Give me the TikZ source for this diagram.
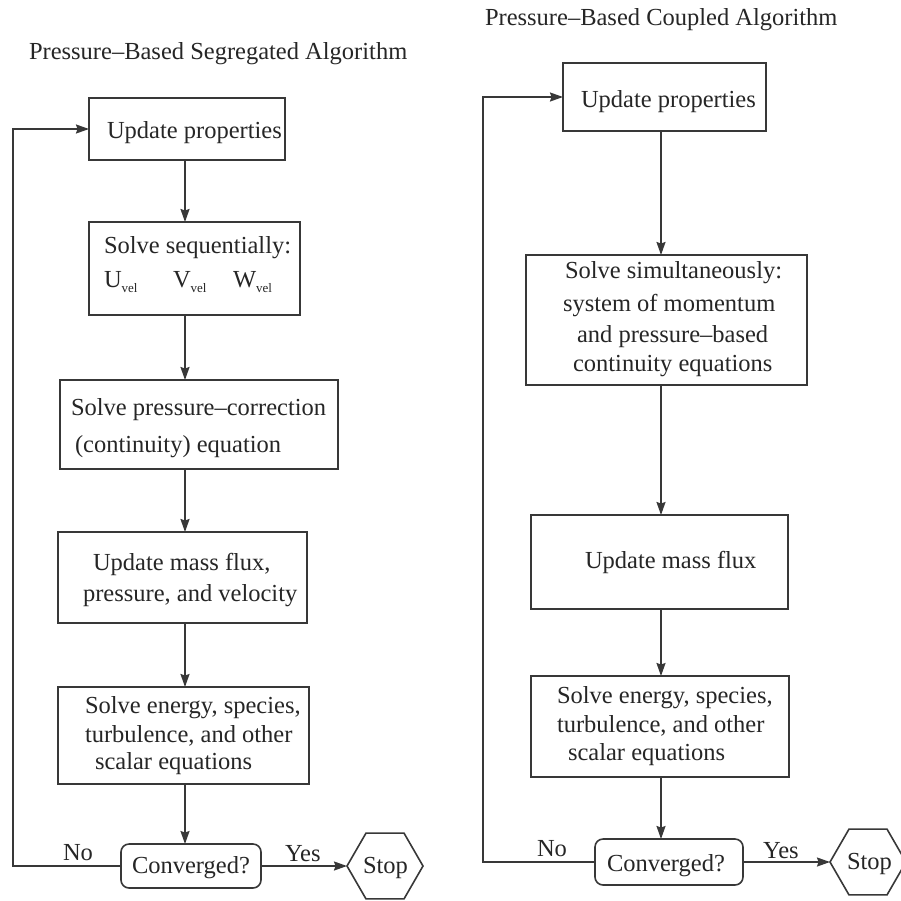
\documentclass[tikz,border=0pt]{standalone}
\usepackage{fontspec}
\setmainfont{Liberation Serif}
\usetikzlibrary{arrows.meta,shapes.geometric}
\definecolor{ink}{HTML}{262626}
\definecolor{edge}{HTML}{383838}
\newcommand{\vsub}[1]{#1\raisebox{-5pt}{\fontsize{13}{13}\selectfont vel}}
\begin{document}
\begin{tikzpicture}[x=1pt,y=-1pt,
  every node/.style={inner sep=0pt,outer sep=0pt},
  stepbox/.style={draw=edge,line width=1.6pt,rectangle},
  roundbox/.style={draw=edge,line width=1.6pt,rectangle,rounded corners=8pt},
  hexbox/.style={draw=edge,line width=1.6pt,regular polygon,regular polygon sides=6,minimum size=76pt},
  txt/.style={anchor=base west,text=ink,font=\fontsize{24.5}{29}\selectfont},
  arr/.style={draw=edge,line width=1.6pt,-{Stealth[length=13pt,width=9pt,inset=1.5pt]}},
  line/.style={draw=edge,line width=1.6pt}]
\useasboundingbox[fill=white] (0,0) rectangle (901,900);

% ---------------- segregated algorithm ----------------
\node[txt] (ltitle) at (29,59) {Pressure–Based Segregated Algorithm};

\node[stepbox,minimum width=196pt,minimum height=62pt] (lup)  at (187,129) {};
\node[stepbox,minimum width=211pt,minimum height=93pt] (lseq) at (194.5,268.5) {};
\node[stepbox,minimum width=278pt,minimum height=89pt] (lpc)  at (199,424.5) {};
\node[stepbox,minimum width=249pt,minimum height=91pt] (lmf)  at (182.5,577.5) {};
\node[stepbox,minimum width=251pt,minimum height=97pt] (len)  at (183.5,735.5) {};
\node[roundbox,minimum width=140pt,minimum height=44pt] (lconv) at (191,866) {};
\node[hexbox] (lstop) at (385,866) {};

\node[txt] (lt1) at (107,138) {Update properties};
\node[txt] (lt2) at (104,253) {Solve sequentially:};
\node[txt] (lt3) at (104,287) {\makebox[69pt][l]{\vsub{U}}\makebox[60pt][l]{\vsub{V}}\vsub{W}};
\node[txt] (lt4) at (71,415) {Solve pressure–correction};
\node[txt] (lt5) at (75,452) {(continuity) equation};
\node[txt] (lt6) at (93,570) {Update mass flux,};
\node[txt] (lt7) at (83,601) {pressure, and velocity};
\node[txt] (lt8) at (85,713) {Solve energy, species,};
\node[txt] (lt9) at (85,742) {turbulence, and other};
\node[txt] (lt10) at (95,769) {scalar equations};
\node[txt] (lt11) at (132,873) {Converged?};
\node[txt] (lt12) at (363,873) {Stop};
\node[txt] (lno) at (63,860) {No};
\node[txt] (lyes) at (285,861) {Yes};

\coordinate (lcol) at (185,0);
\coordinate (lback) at (13,0);
\draw[arr] (lup.south -| lcol) -- (lseq.north -| lcol);
\draw[arr] (lseq.south -| lcol) -- (lpc.north -| lcol);
\draw[arr] (lpc.south -| lcol) -- (lmf.north -| lcol);
\draw[arr] (lmf.south -| lcol) -- (len.north -| lcol);
\draw[arr] (len.south -| lcol) -- (lconv.north -| lcol);
\draw[arr] (lconv.east) -- (lstop.west);
\draw[arr] (lconv.west) -| (lback |- lup.west) -- (lup.west);

% ---------------- coupled algorithm ----------------
\node[txt] (rtitle) at (485,25) {Pressure–Based Coupled Algorithm};

\node[stepbox,minimum width=203pt,minimum height=68pt]  (rup)  at (664.5,97) {};
\node[stepbox,minimum width=281pt,minimum height=130pt] (rsim) at (666.5,320) {};
\node[stepbox,minimum width=257pt,minimum height=94pt]  (rmf)  at (659.5,562) {};
\node[stepbox,minimum width=258pt,minimum height=101pt] (ren)  at (660,726.5) {};
\node[roundbox,minimum width=148pt,minimum height=46pt] (rconv) at (669,862) {};
\node[hexbox] (rstop) at (868,862) {};

\node[txt] (rt1) at (581,107) {Update properties};
\node[txt] (rt2) at (565,278) {Solve simultaneously:};
\node[txt] (rt3) at (563,311) {system of momentum};
\node[txt] (rt4) at (577,342) {and pressure–based};
\node[txt] (rt5) at (573,371) {continuity equations};
\node[txt] (rt6) at (585,568) {Update mass flux};
\node[txt] (rt7) at (557,703) {Solve energy, species,};
\node[txt] (rt8) at (557,732) {turbulence, and other};
\node[txt] (rt9) at (568,760) {scalar equations};
\node[txt] (rt10) at (607,871) {Converged?};
\node[txt] (rt11) at (847,869) {Stop};
\node[txt] (rno) at (537,856) {No};
\node[txt] (ryes) at (763,858) {Yes};

\coordinate (rcol) at (661,0);
\coordinate (rback) at (483,0);
\draw[arr] (rup.south -| rcol) -- (rsim.north -| rcol);
\draw[arr] (rsim.south -| rcol) -- (rmf.north -| rcol);
\draw[arr] (rmf.south -| rcol) -- (ren.north -| rcol);
\draw[arr] (ren.south -| rcol) -- (rconv.north -| rcol);
\draw[arr] (rconv.east) -- (rstop.west);
\draw[arr] (rconv.west) -| (rback |- rup.west) -- (rup.west);
\end{tikzpicture}
\end{document}
